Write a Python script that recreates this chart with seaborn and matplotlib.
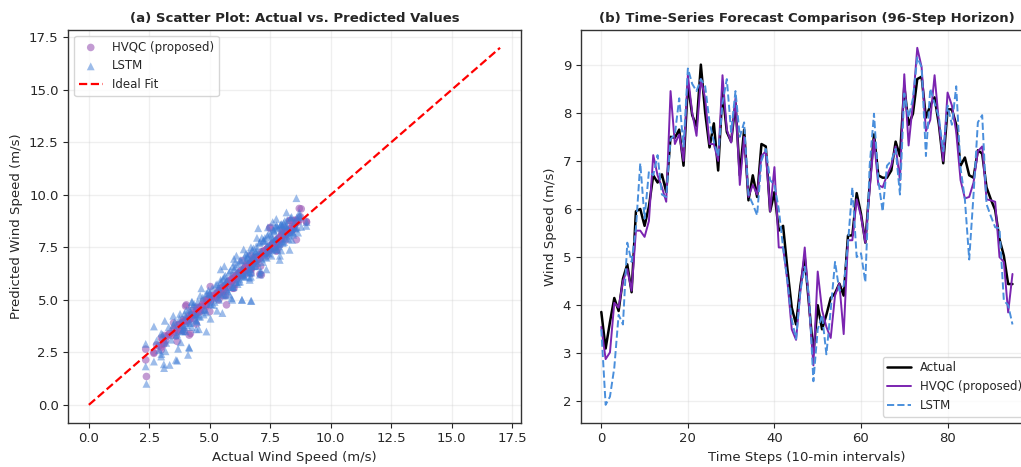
import numpy as np
import pandas as pd
import matplotlib
matplotlib.use("Agg")
import matplotlib.pyplot as plt
import seaborn as sns

# --- 96-step forecast window ---
actual = [3.86, 3.10, 3.65, 4.15, 3.88, 4.55, 4.85, 4.27, 5.95, 6.00,
          5.65, 6.05, 6.70, 6.55, 6.72, 6.35, 7.50, 7.48, 7.65, 6.90,
          8.60, 7.95, 7.72, 9.00, 8.00, 7.28, 7.78, 6.80, 8.45, 7.60,
          7.40, 8.20, 6.70, 7.65, 6.18, 6.70, 6.25, 7.35, 7.30, 5.95,
          6.35, 5.55, 5.65, 4.75, 3.95, 3.60, 4.40, 5.00, 4.00, 3.00,
          4.00, 3.50, 3.80, 4.15, 4.25, 4.45, 4.20, 5.45, 5.45, 6.33,
          5.90, 5.30, 6.50, 7.55, 6.70, 6.65, 6.65, 6.80, 7.40, 7.10,
          8.55, 7.75, 7.98, 8.70, 8.75, 7.90, 8.15, 8.32, 7.75, 6.95,
          8.07, 8.07, 7.75, 6.90, 7.07, 6.70, 6.65, 7.22, 7.15, 6.45,
          6.20, 5.98, 5.37, 5.03, 4.44, 4.44]

hvqc = [3.55, 2.88, 3.02, 4.05, 3.95, 4.50, 4.75, 4.30, 5.55, 5.55,
        5.42, 5.75, 7.12, 6.70, 6.45, 6.15, 8.45, 7.35, 7.55, 7.00,
        8.78, 8.00, 7.52, 8.70, 8.30, 7.35, 7.35, 7.00, 8.78, 7.65,
        7.38, 8.30, 6.50, 7.50, 6.25, 6.50, 6.30, 7.10, 7.20, 5.95,
        6.87, 5.20, 5.20, 4.50, 3.50, 3.28, 4.30, 5.20, 4.00, 2.75,
        4.70, 3.90, 3.55, 3.32, 4.20, 4.45, 3.40, 5.35, 5.35, 6.20,
        5.85, 5.30, 6.40, 7.45, 6.50, 6.45, 6.70, 6.90, 7.30, 6.60,
        8.80, 7.32, 8.20, 9.35, 8.95, 7.62, 7.85, 8.78, 7.80, 7.00,
        8.42, 8.15, 7.60, 6.60, 6.22, 6.25, 6.55, 7.20, 7.30, 6.20,
        6.18, 6.15, 5.00, 4.90, 3.85, 4.65]

lstm = [3.50, 1.93, 2.10, 2.70, 3.80, 3.60, 5.30, 4.90, 5.60, 6.95,
        5.80, 6.78, 6.70, 7.12, 6.30, 6.25, 7.45, 7.55, 8.30, 7.30,
        8.92, 8.60, 8.45, 8.70, 8.55, 7.80, 7.40, 7.10, 8.20, 8.70,
        7.60, 8.45, 7.50, 7.80, 6.30, 6.10, 5.87, 7.00, 7.25, 6.60,
        6.50, 6.00, 5.20, 4.50, 3.70, 3.30, 4.30, 4.80, 4.20, 2.42,
        3.50, 3.80, 2.98, 3.90, 4.90, 4.30, 4.40, 5.30, 6.45, 5.00,
        5.08, 4.48, 6.90, 7.98, 6.60, 5.95, 6.90, 7.00, 7.25, 6.30,
        8.40, 7.90, 8.30, 9.15, 8.95, 7.10, 8.50, 8.20, 7.90, 7.20,
        8.15, 7.75, 8.55, 6.85, 6.20, 4.95, 6.30, 7.80, 7.95, 6.10,
        5.85, 5.62, 5.60, 4.10, 4.00, 3.60]

# --- extra test-set points seen only in panel a ---
extra_actual = [2.35, 2.35, 2.38, 2.69, 2.69, 2.99, 2.99, 3.11, 3.17, 3.34,
                3.14, 3.49, 3.60, 3.69, 3.77, 3.90, 4.03, 4.10, 4.14, 4.25,
                4.35, 4.48, 4.60, 4.65, 4.75, 4.86, 4.86, 5.00, 5.02, 5.15,
                5.25, 5.38, 5.52, 5.60, 5.69, 5.75, 5.85, 5.93, 6.05, 6.15,
                6.25, 6.33, 6.42, 6.50, 6.60, 6.72, 6.80, 6.90, 7.00, 7.05,
                7.13, 7.20, 7.28, 7.34, 7.42, 7.48, 7.55, 7.62, 7.70, 7.78,
                7.85, 7.89, 7.95, 8.02, 8.10, 8.17, 8.25, 8.30, 8.38, 8.45,
                8.52, 8.58, 8.65, 8.78, 8.99, 6.55, 5.45, 4.95, 7.60, 6.95,
                4.50, 4.55, 4.70, 4.80, 4.90, 5.05, 5.10, 5.20, 5.30, 5.35,
                5.45, 5.55, 5.65, 5.70, 5.80, 5.90, 6.00, 6.08, 6.18, 6.22,
                6.30, 6.38, 6.45, 6.52, 6.62, 6.68, 6.75, 6.85, 6.92, 6.98,
                7.08, 7.15, 7.22, 7.30, 7.38, 7.45, 7.52, 7.58, 7.65, 7.72,
                7.80, 7.88, 7.92, 8.00, 8.05, 8.12, 8.20, 8.28, 8.35, 8.42,
                8.50, 8.60, 8.70, 3.30, 3.40, 3.55, 3.65, 3.75, 3.85, 3.95,
                4.05, 4.15, 4.20, 4.30, 4.40, 2.80, 2.90, 3.05, 3.20, 6.40,
                6.95, 7.40, 7.75, 5.60, 6.10, 7.10, 7.95, 6.65, 5.80, 4.60,
                8.15, 8.40]
extra_hvqc = [2.65, 2.14, 1.35, 2.45, 2.50, 2.62, 3.19, 2.94, 3.05, 3.40,
              3.30, 3.60, 3.45, 3.80, 3.85, 4.05, 4.76, 3.95, 4.20, 4.50,
              4.10, 4.60, 4.45, 4.70, 4.95, 4.70, 5.00, 4.44, 5.63, 5.20,
              5.10, 5.45, 5.60, 5.50, 4.76, 5.85, 5.95, 6.00, 6.10, 6.05,
              6.35, 6.25, 6.50, 6.60, 6.50, 6.80, 6.75, 7.00, 7.05, 6.95,
              6.19, 7.30, 7.20, 7.40, 7.50, 8.41, 7.45, 7.70, 7.60, 7.85,
              7.80, 7.95, 8.05, 7.90, 8.20, 8.10, 8.30, 8.76, 8.45, 8.35,
              8.60, 7.86, 8.70, 9.33, 8.73, 6.60, 5.40, 5.05, 7.65, 6.90,
              4.55, 4.40, 4.80, 4.75, 4.95, 5.00, 5.20, 5.15, 5.35, 5.25,
              5.55, 5.50, 5.70, 5.60, 5.90, 5.85, 6.05, 5.95, 6.25, 6.15,
              6.40, 6.30, 6.55, 6.45, 6.70, 6.60, 6.85, 6.80, 7.00, 6.90,
              7.15, 7.10, 7.30, 7.25, 7.45, 7.40, 7.60, 7.55, 7.75, 7.70,
              7.90, 7.85, 8.00, 8.05, 8.15, 8.10, 8.25, 8.20, 8.40, 8.50,
              8.45, 8.70, 8.80, 3.35, 3.30, 3.60, 3.55, 3.80, 3.75, 4.00,
              4.00, 4.25, 4.10, 4.35, 4.30, 2.85, 2.80, 3.10, 3.25, 6.35,
              7.05, 7.35, 7.80, 5.65, 6.15, 7.00, 7.90, 6.55, 5.70, 4.65,
              8.20, 8.30]
extra_lstm = [2.90, 1.83, 1.00, 2.06, 3.73, 2.30, 3.40, 1.75, 2.55, 1.90,
              4.00, 4.24, 2.14, 2.67, 4.33, 3.60, 4.50, 2.38, 2.75, 3.70,
              4.80, 3.95, 4.20, 5.55, 4.30, 3.49, 4.40, 5.30, 5.10, 4.75,
              5.70, 5.00, 4.37, 6.10, 5.90, 5.40, 6.40, 5.00, 6.55, 5.75,
              6.90, 5.00, 6.10, 7.20, 6.35, 4.95, 7.45, 6.60, 8.41, 7.70,
              7.30, 6.80, 7.95, 6.45, 8.10, 7.60, 7.10, 8.35, 7.40, 8.50,
              7.55, 6.90, 8.60, 7.70, 8.75, 9.16, 7.90, 7.38, 8.95, 8.10,
              8.40, 9.84, 8.20, 8.47, 8.52, 7.00, 5.85, 5.45, 7.90, 7.35,
              4.90, 4.20, 5.10, 4.55, 5.30, 4.80, 5.55, 4.90, 5.75, 5.10,
              5.95, 5.25, 6.15, 5.50, 6.30, 5.60, 6.45, 5.85, 6.70, 6.00,
              6.85, 6.15, 7.05, 6.30, 7.20, 6.45, 7.35, 6.60, 7.55, 6.75,
              7.75, 6.95, 7.85, 7.05, 8.05, 7.20, 8.15, 7.35, 8.25, 7.50,
              8.40, 7.65, 8.55, 7.80, 8.65, 7.95, 8.80, 8.05, 8.90, 8.25,
              8.70, 8.45, 9.00, 3.70, 3.10, 3.95, 3.35, 4.10, 3.50, 4.35,
              3.80, 4.55, 3.90, 4.70, 4.05, 3.05, 2.60, 3.35, 2.95, 7.40,
              7.95, 8.45, 8.85, 6.60, 7.10, 6.40, 7.35, 6.05, 5.25, 5.20,
              8.55, 7.85]

ideal_range = [0, 17]

steps = np.arange(len(actual))
scatter_df = pd.DataFrame({
    "actual": actual + extra_actual,
    "hvqc": hvqc + extra_hvqc,
    "lstm": lstm + extra_lstm,
})
ts_df = pd.DataFrame({"step": steps, "actual": actual, "hvqc": hvqc, "lstm": lstm})

sns.set_theme(style="ticks", rc={
    "axes.linewidth": 1.0,
    "xtick.major.size": 3.5, "ytick.major.size": 3.5,
    "xtick.major.width": 0.8, "ytick.major.width": 0.8,
    "xtick.major.pad": 3.5, "ytick.major.pad": 3.5,
})
plt.rcParams['font.family'] = ['DejaVu Sans']

fig = plt.figure(figsize=(10.21, 4.67), dpi=100)
ax1 = fig.add_axes([0.0669, 0.0949, 0.443, 0.841])
ax2 = fig.add_axes([0.5688, 0.0949, 0.443, 0.841])

purple_pt = '#9b59b6'
blue_pt = '#3d7bd6'

# --- (a) scatter ---
sns.scatterplot(data=scatter_df, x='actual', y='hvqc', ax=ax1, color=purple_pt,
                alpha=0.6, s=30, marker='o', edgecolor='none', label='HVQC (proposed)')
sns.scatterplot(data=scatter_df, x='actual', y='lstm', ax=ax1, color=blue_pt,
                alpha=0.5, s=32, marker='^', edgecolor='none', label='LSTM')
ax1.plot(ideal_range, ideal_range, color='red', linestyle='--', linewidth=1.6, label='Ideal Fit')
ax1.set_xticks(np.arange(0, 17.6, 2.5))
ax1.set_yticks(np.arange(0, 17.6, 2.5))
ax1.set_xlim(-0.85, 17.85)
ax1.set_ylim(-0.85, 17.85)
ax1.set_title('(a) Scatter Plot: Actual vs. Predicted Values', fontsize=9.5, fontweight='bold')
ax1.set_xlabel('Actual Wind Speed (m/s)', fontsize=9.5)
ax1.set_ylabel('Predicted Wind Speed (m/s)', fontsize=9.5)
ax1.legend(loc='upper left', fontsize=8.5)

# --- (b) time series ---
sns.lineplot(data=ts_df, x='step', y='actual', ax=ax2, color='black', linewidth=1.8, label='Actual')
sns.lineplot(data=ts_df, x='step', y='hvqc', ax=ax2, color='#7b24b0', linewidth=1.4, label='HVQC (proposed)')
sns.lineplot(data=ts_df, x='step', y='lstm', ax=ax2, color='#4a8fdc', linewidth=1.4,
             linestyle='--', label='LSTM')
ax2.set_title('(b) Time-Series Forecast Comparison (96-Step Horizon)', fontsize=9.5, fontweight='bold')
ax2.set_xlabel('Time Steps (10-min intervals)', fontsize=9.5)
ax2.set_ylabel('Wind Speed (m/s)', fontsize=9.5)
ax2.legend(loc='lower right', fontsize=8.5)

for ax in (ax1, ax2):
    ax.grid(True, alpha=0.3)
    ax.tick_params(labelsize=9.5)
    for sp in ax.spines.values():
        sp.set_color('#333333')

fig.savefig('out.png', dpi=100)
